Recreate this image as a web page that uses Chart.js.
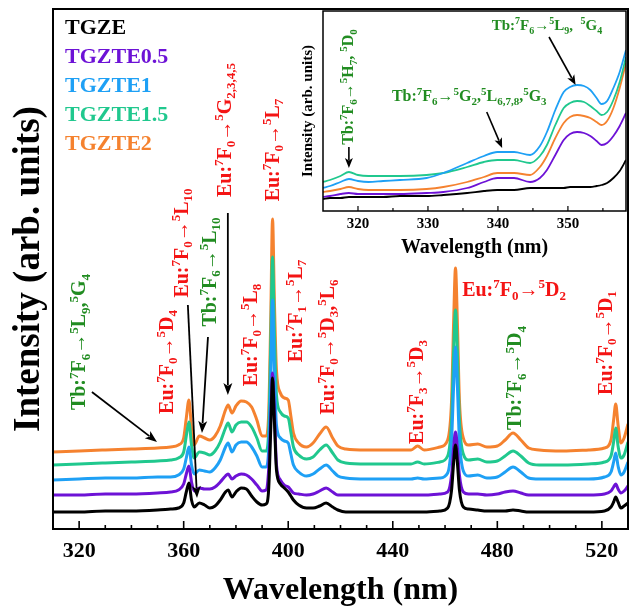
<!DOCTYPE html>
<html><head><meta charset="utf-8">
<script src="https://cdn.jsdelivr.net/npm/chart.js@4.4.0/dist/chart.umd.min.js"></script>
<style>
html,body{margin:0;padding:0;background:#fff;}
#wrap{position:relative;width:633px;height:608px;overflow:hidden;}
#main{position:absolute;left:0;top:0;}
#inset{position:absolute;left:290px;top:0;}
</style></head><body>
<div id="wrap"><canvas id="main" width="633" height="608"></canvas><canvas id="inset" width="343" height="262"></canvas></div>
<script>
// ---------------- DATA ----------------
const seriesNames = ['TGZE','TGZTE0.5','TGZTE1','TGZTE1.5','TGZTE2'];
const seriesColors = ['#000000','#6d12d6','#1ea0f5','#20c88e','#f5822f'];

const wavelength = [310,320,330,340,350,355,358,360,361,362,363,364,
 366,368,370,372,374,376,377,378.5,380,382,384,386,388,390,
 391.5,392.5,393.3,394,394.7,395.5,397,398.5,400,401,402,
 404,407,409.5,412,414.5,417,419,422,
 430,440,447,449.5,452,
 458,461,462.5,463.3,464,464.7,465.5,467,
 469,472.5,476,480,483,486,489,492,496,
 505,515,521,523.5,524.5,525.3,526.2,527.3,528.5,530];

const TGZE = [17,17,18,18,19,20,21,26,37,46,29,22,
 26,24,21,23,29,37,39,32,37,41,40,33,27,24,
 25,39,99,151,109,59,45,41,37,33,29,
 24,21,21,23,26,22,19,17,
 17,17,17,17,17,
 18,21,39,67,84,67,39,22,
 20,19,18,18,18,19,18,17,17,
 17,17,18,22,27,32,27,21,23,26];
const TGZTE05 = [34,34,35,35,36,37,39,45,55,63,47,38,
 41,40,40,42,47,53,55,50,53,55,54,50,44,38,
 39,59,109,156,119,64,49,44,42,39,36,
 35,34,35,38,41,37,34,34,
 34,34,34,34,34,
 35,37,54,82,97,82,54,37,
 35,35,34,35,37,38,36,34,34,
 34,34,35,38,42,45,40,36,38,43];
const TGZTE1 = [49,50,51,51,52,52,54,60,71,82,64,55,
 59,58,57,61,69,82,86,77,84,87,87,82,73,62,
 62,79,149,229,159,104,91,88,86,75,64,
 57,53,55,60,64,58,53,51,
 50,50,50,51,50,
 51,56,89,144,182,144,89,58,
 53,54,51,52,57,62,57,51,50,
 50,50,52,57,67,76,63,54,57,67];
const TGZTE15 = [64,65,66,67,68,69,71,77,93,107,84,71,
 77,76,74,78,87,101,106,97,104,107,107,102,91,78,
 78,97,184,272,199,134,117,113,111,97,82,
 74,70,72,79,84,76,69,66,
 65,65,65,67,65,
 67,73,109,179,219,179,109,75,
 69,70,67,68,73,78,73,66,64,
 64,65,67,73,87,101,83,71,74,87];
const TGZTE2 = [77,78,79,80,81,82,84,91,111,129,101,84,
 93,91,89,93,103,119,124,116,123,128,127,122,109,93,
 93,114,209,310,229,159,136,131,129,113,96,
 86,82,86,95,102,91,83,80,
 79,79,79,83,79,
 82,89,129,209,261,209,129,91,
 84,85,82,83,89,96,89,81,79,
 78,79,81,89,109,125,104,86,91,105];
const mainSeries = [TGZE, TGZTE05, TGZTE1, TGZTE15, TGZTE2];
const xTickLabels = [320,360,400,440,480,520];

const insetWavelength = [315,316,317.5,318.7,320,321.5,323.6,326,329.8,332.2,335.6,338,339.9,342.3,344.6,346,347,348.2,349.4,350.3,351.3,352.3,353.2,354.1,354.8,355.6,356.5,357.4,358.3];
const insetTGZE    = [12,13,13,14,14,14,14,15,15,16,18,20,21,21,23,23,23,23,23,24,24,24,24,25,26,28,33,40,51];
const insetTGZTE05 = [14,15,17,18,17,17,17,17,18,19,23,29,33,33,29,33,41,56,71,77,79,78,75,70,66,68,75,85,98];
const insetTGZTE1  = [23,25,29,32,30,29,30,31,33,38,48,55,59,59,56,65,79,101,119,124,126,125,121,113,107,110,123,139,161];
const insetTGZTE15 = [29,31,35,39,36,35,35,35,36,38,44,49,51,51,48,55,66,86,103,108,110,109,105,100,96,99,111,129,154];
const insetTGZTE2  = [19,20,22,24,22,21,21,21,22,24,29,34,38,38,36,44,55,73,88,94,96,95,93,89,86,90,103,123,148];
const insetSeries = [insetTGZE, insetTGZTE05, insetTGZTE1, insetTGZTE15, insetTGZTE2];
const insetTickLabels = [320,330,340,350];

// annotation texts: ^{..} superscript, _{..} subscript
const RED = '#f41414', GREEN = '#218c21';
const mainLabels = [
 {t:'Tb:^{7}F_{6}→^{5}L_{9},^{5}G_{4}', x:319.9, y:187, c:GREEN, v:true},
 {t:'Eu:^{7}F_{0}→^{5}D_{4}', x:353.2, y:167, c:RED, v:true},
 {t:'Eu:^{7}F_{0}→^{5}L_{10}', x:359.0, y:286, c:RED, v:true},
 {t:'Tb:^{7}F_{6}→^{5}L_{10}', x:369.7, y:257, c:GREEN, v:true},
 {t:'Eu:^{7}F_{0}→^{5}G_{2,3,4,5}', x:375.4, y:399, c:RED, v:true},
 {t:'Eu:^{7}F_{0}→^{5}L_{8}', x:385.4, y:194, c:RED, v:true},
 {t:'Eu:^{7}F_{0}→^{5}L_{7}', x:393.8, y:379, c:RED, v:true},
 {t:'Eu:^{7}F_{1}→^{5}L_{7}', x:402.6, y:218, c:RED, v:true},
 {t:'Eu:^{7}F_{0}→^{5}D_{3},^{5}L_{6}', x:414.8, y:182, c:RED, v:true},
 {t:'Eu:^{7}F_{3}→^{5}D_{3}', x:448.9, y:137, c:RED, v:true},
 {t:'Eu:^{7}F_{0}→^{5}D_{2}', x:486.4, y:240, c:RED, v:false},
 {t:'Tb:^{7}F_{6}→^{5}D_{4}', x:486.7, y:151, c:GREEN, v:true},
 {t:'Eu:^{7}F_{0}→^{5}D_{1}', x:521.2, y:186, c:RED, v:true}
];
const mainArrows = [
 [324.9,137,349.8,87],
 [361.6,224,365.1,31],
 [369.3,192,367.0,96],
 [376.9,316,376.9,134]
];
const insetLabels = [
 {t:'Tb:^{7}F_{6}→^{5}H_{7}, ^{5}D_{0}', x:318.6, y:124, c:GREEN, v:true, s:16},
 {t:'Tb:^{7}F_{6}→^{5}G_{2},^{5}L_{6,7,8},^{5}G_{3}', x:335.9, y:115, c:GREEN, v:false, s:16},
 {t:'Tb:^{7}F_{6}→^{5}L_{9},  ^{5}G_{4}', x:347.0, y:186, c:GREEN, v:false, s:15}
];
const insetArrows = [
 [318.7,64,318.7,43],
 [338.4,99,340.6,63],
 [347.3,174,351.1,126]
];

// ---------------- HELPERS ----------------
const FONT = '"Liberation Serif","Times New Roman",serif';
function parseRich(s){
  const segs=[]; let i=0, buf='';
  while(i<s.length){
    const c=s[i];
    if((c==='^'||c==='_') && s[i+1]==='{'){
      if(buf){segs.push({t:buf,k:0});buf='';}
      const j=s.indexOf('}',i);
      segs.push({t:s.slice(i+2,j),k:c==='^'?1:-1});
      i=j+1;
    } else {buf+=c;i++;}
  }
  if(buf) segs.push({t:buf,k:0});
  return segs;
}
function drawRich(ctx, s, x, y, size, color, vertical){
  const segs=parseRich(s); const small=Math.round(size*0.66);
  ctx.save(); ctx.translate(x,y); if(vertical) ctx.rotate(-Math.PI/2);
  let w=0;
  segs.forEach(g=>{ctx.font=`bold ${g.k?small:size}px ${FONT}`; g.w=ctx.measureText(g.t).width; w+=g.w;});
  let cx=-w/2; ctx.fillStyle=color; ctx.textBaseline='alphabetic'; ctx.textAlign='left';
  const base=size*0.33;
  segs.forEach(g=>{
    ctx.font=`bold ${g.k?small:size}px ${FONT}`;
    const dy = g.k===1 ? -size*0.38 : (g.k===-1 ? size*0.24 : 0);
    ctx.fillText(g.t,cx,base+dy); cx+=g.w;
  });
  ctx.restore();
}
function drawArrow(ctx,x1,y1,x2,y2,head,hw,lw){
  const a=Math.atan2(y2-y1,x2-x1);
  ctx.save(); ctx.strokeStyle='#000'; ctx.fillStyle='#000'; ctx.lineWidth=lw;
  ctx.beginPath(); ctx.moveTo(x1,y1); ctx.lineTo(x2-Math.cos(a)*head*0.8,y2-Math.sin(a)*head*0.8); ctx.stroke();
  ctx.beginPath(); ctx.moveTo(x2,y2);
  ctx.lineTo(x2-Math.cos(a)*head+Math.sin(a)*hw, y2-Math.sin(a)*head-Math.cos(a)*hw);
  ctx.lineTo(x2-Math.cos(a)*head*0.75, y2-Math.sin(a)*head*0.75);
  ctx.lineTo(x2-Math.cos(a)*head-Math.sin(a)*hw, y2-Math.sin(a)*head+Math.cos(a)*hw);
  ctx.closePath(); ctx.fill(); ctx.restore();
}
function framePlugin(opt){
  return {
    id:'frame'+opt.name,
    afterDatasetsDraw(chart){
      const ctx=chart.ctx, a=chart.chartArea, xs=chart.scales.x, ys=chart.scales.y;
      ctx.save();
      ctx.strokeStyle='#000'; ctx.lineWidth=opt.frameW;
      ctx.strokeRect(a.left,a.top,a.right-a.left,a.bottom-a.top);
      ctx.lineWidth=opt.tickW;
      for(let v=xs.min+opt.minorStep; v<xs.max; v+=opt.minorStep){
        const px=xs.getPixelForValue(v);
        const major=opt.majors.includes(Math.round(v*10)/10);
        ctx.beginPath(); ctx.moveTo(px,a.bottom); ctx.lineTo(px,a.bottom-(major?opt.majorLen:opt.minorLen)); ctx.stroke();
      }
      ctx.restore();
      // legend
      if(opt.legend){
        chart.data.datasets.forEach((d,i)=>{
          ctx.save(); ctx.font=`bold 22px ${FONT}`; ctx.fillStyle=d.borderColor;
          ctx.textBaseline='middle'; ctx.textAlign='left';
          ctx.fillText(d.label, a.left+12, a.top+19+i*29);
          ctx.restore();
        });
      }
      opt.arrows.forEach(r=>{
        drawArrow(ctx,xs.getPixelForValue(r[0]),ys.getPixelForValue(r[1]),xs.getPixelForValue(r[2]),ys.getPixelForValue(r[3]),opt.head,opt.hw,opt.arrowW);
      });
      opt.labels.forEach(l=>{
        drawRich(ctx,l.t,xs.getPixelForValue(l.x),ys.getPixelForValue(l.y),l.s||opt.labelSize,l.c,l.v);
      });
    }
  };
}
function makeDatasets(xv, list, w){
  return list.map((arr,i)=>({
    label: seriesNames[i],
    data: xv.map((x,j)=>({x:x,y:arr[j]})),
    borderColor: seriesColors[i],
    backgroundColor: seriesColors[i],
    borderWidth: w, pointRadius: 0, fill:false,
    cubicInterpolationMode:'monotone'
  }));
}

// ---------------- MAIN CHART ----------------
new Chart(document.getElementById('main'), {
  type:'line',
  data:{datasets: makeDatasets(wavelength, mainSeries, 3)},
  options:{
    responsive:false, animation:false, devicePixelRatio:1,
    layout:{padding:{top:9,right:5,left:0,bottom:0}},
    plugins:{legend:{display:false}, tooltip:{enabled:false}},
    scales:{
      x:{type:'linear', min:310, max:530, position:'bottom',
        grid:{display:false, drawTicks:false, tickLength:0}, border:{display:false},
        afterBuildTicks:s=>{s.ticks = xTickLabels.map(v=>({value:v}));},
        ticks:{autoSkip:false, maxRotation:0, padding:9, color:'#000', font:{family:FONT, size:22, weight:'bold'}},
        title:{display:true, text:'Wavelength (nm)', color:'#000', font:{family:FONT, size:32, weight:'bold', lineHeight:1}, padding:{top:0,bottom:1}},
        afterFit:s=>{s.height=79;}
      },
      y:{min:0, max:520,
        grid:{display:false, drawTicks:false, tickLength:0}, border:{display:false},
        ticks:{display:false},
        title:{display:true, text:'Intensity (arb. units)', color:'#000', font:{family:FONT, size:37, weight:'bold', lineHeight:1.2}, padding:{top:7,bottom:0}},
        afterFit:s=>{s.width=53;}
      }
    }
  },
  plugins:[framePlugin({name:'main', frameW:2, tickW:1.6, minorStep:10, majors:xTickLabels, majorLen:8, minorLen:4,
    legend:true, arrows:mainArrows, labels:mainLabels, labelSize:20, head:12, hw:4.5, arrowW:1.8})]
});

// ---------------- INSET CHART ----------------
new Chart(document.getElementById('inset'), {
  type:'line',
  data:{datasets: makeDatasets(insetWavelength, insetSeries, 1.8)},
  options:{
    responsive:false, animation:false, devicePixelRatio:1,
    layout:{padding:{top:11,right:7,left:0,bottom:0}},
    plugins:{legend:{display:false}, tooltip:{enabled:false}},
    scales:{
      x:{type:'linear', min:315, max:358.3, position:'bottom',
        grid:{display:false, drawTicks:false, tickLength:0}, border:{display:false},
        afterBuildTicks:s=>{s.ticks = insetTickLabels.map(v=>({value:v}));},
        ticks:{autoSkip:false, maxRotation:0, padding:4, color:'#000', font:{family:FONT, size:15, weight:'bold'}},
        title:{display:true, text:'Wavelength (nm)', color:'#000', font:{family:FONT, size:20, weight:'bold', lineHeight:1}, padding:{top:0,bottom:4}},
        afterFit:s=>{s.height=51;}
      },
      y:{min:0, max:200,
        grid:{display:false, drawTicks:false, tickLength:0}, border:{display:false},
        ticks:{display:false},
        title:{display:true, text:'Intensity (arb. units)', color:'#000', font:{family:FONT, size:15, weight:'bold', lineHeight:1.2}, padding:{top:9,bottom:0}},
        afterFit:s=>{s.width=33;}
      }
    }
  },
  plugins:[framePlugin({name:'inset', frameW:1.5, tickW:1.2, minorStep:5, majors:insetTickLabels, majorLen:5, minorLen:3,
    legend:false, arrows:insetArrows, labels:insetLabels, labelSize:16, head:10, hw:4, arrowW:1.6})]
});
</script>
</body></html>
